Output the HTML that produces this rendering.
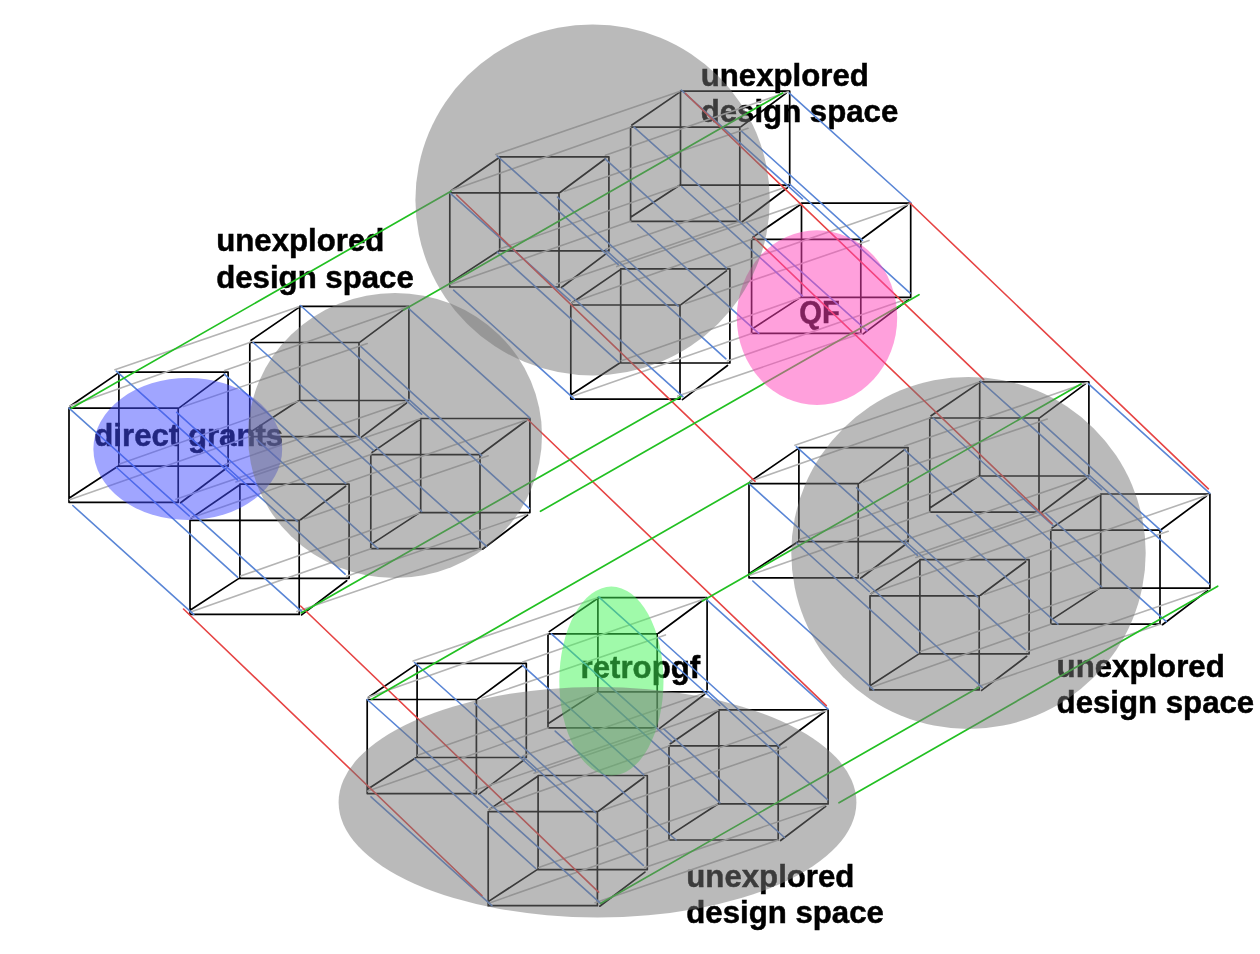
<!DOCTYPE html>
<html><head><meta charset="utf-8"><style>
html,body{margin:0;padding:0;background:#fff;width:1260px;height:954px;overflow:hidden}
svg{display:block;will-change:transform}
text{font-family:"Liberation Sans",sans-serif;font-weight:bold;font-size:31.2px;fill:#000;stroke:#000;stroke-width:0.5px}
</style></head><body>
<svg width="1260" height="954" viewBox="0 0 1260 954">
<g><text x="700.7" y="86.2">unexplored</text><text x="700.7" y="122.4">design space</text><text x="216.2" y="251.4">unexplored</text><text x="216.2" y="287.6">design space</text><text x="1056.6" y="677.0">unexplored</text><text x="1056.6" y="713.2">design space</text><text x="686.3" y="886.8">unexplored</text><text x="686.3" y="923.0">design space</text><text x="94.3" y="445.5">direct grants</text><text x="580.6" y="677.6">retropgf</text><text transform="translate(799.2 322.9) scale(0.935 1)" x="0" y="0">QF</text></g>
<g fill="none" stroke-linecap="round">
<path d="M70.3 406.0L118.2 373.1M69.0 408.2L69.0 502.3M69.0 408.2L178.2 408.2M179.5 407.6L224.6 374.1M178.2 408.2L178.2 502.3M69.0 498.2L117.6 466.5M69.0 502.3L178.2 502.3M180.6 502.8L225.7 468.7M118.9 372.1L118.9 466.2M118.9 372.1L228.1 372.1M228.1 372.1L228.1 466.2M118.9 466.2L228.1 466.2M251.1 340.3L299.0 307.4M249.8 342.5L249.8 436.6M249.8 342.5L359.0 342.5M360.3 341.9L405.4 308.4M359.0 342.5L359.0 436.6M249.8 432.5L298.4 400.8M249.8 436.6L359.0 436.6M361.4 437.1L406.5 403.0M299.7 306.4L299.7 400.5M299.7 306.4L408.9 306.4M408.9 306.4L408.9 400.5M299.7 400.5L408.9 400.5M191.3 518.1L239.2 485.2M190.0 520.3L190.0 614.4M190.0 520.3L299.2 520.3M300.5 519.7L345.6 486.2M299.2 520.3L299.2 614.4M190.0 610.3L238.6 578.6M190.0 614.4L299.2 614.4M301.6 614.9L346.7 580.8M239.9 484.2L239.9 578.3M239.9 484.2L349.1 484.2M349.1 484.2L349.1 578.3M239.9 578.3L349.1 578.3M372.1 452.4L420.0 419.5M370.8 454.6L370.8 548.7M370.8 454.6L480.0 454.6M481.3 454.0L526.4 420.5M480.0 454.6L480.0 548.7M370.8 544.6L419.4 512.9M370.8 548.7L480.0 548.7M482.4 549.2L527.5 515.1M420.7 418.5L420.7 512.6M420.7 418.5L529.9 418.5M529.9 418.5L529.9 512.6M420.7 512.6L529.9 512.6M451.1 190.7L499.0 157.8M449.8 192.9L449.8 287.0M449.8 192.9L559.0 192.9M560.3 192.3L605.4 158.8M559.0 192.9L559.0 287.0M449.8 282.9L498.4 251.2M449.8 287.0L559.0 287.0M561.4 287.5L606.5 253.4M499.7 156.8L499.7 250.9M499.7 156.8L608.9 156.8M608.9 156.8L608.9 250.9M499.7 250.9L608.9 250.9M631.9 125.0L679.8 92.1M630.6 127.2L630.6 221.3M630.6 127.2L739.8 127.2M741.1 126.6L786.2 93.1M739.8 127.2L739.8 221.3M630.6 217.2L679.2 185.5M630.6 221.3L739.8 221.3M742.2 221.8L787.3 187.7M680.5 91.1L680.5 185.2M680.5 91.1L789.7 91.1M789.7 91.1L789.7 185.2M680.5 185.2L789.7 185.2M572.1 302.8L620.0 269.9M570.8 305.0L570.8 399.1M570.8 305.0L680.0 305.0M681.3 304.4L726.4 270.9M680.0 305.0L680.0 399.1M570.8 395.0L619.4 363.3M570.8 399.1L680.0 399.1M682.4 399.6L727.5 365.5M620.7 268.9L620.7 363.0M620.7 268.9L729.9 268.9M729.9 268.9L729.9 363.0M620.7 363.0L729.9 363.0M752.9 237.1L800.8 204.2M751.6 239.3L751.6 333.4M751.6 239.3L860.8 239.3M862.1 238.7L907.2 205.2M860.8 239.3L860.8 333.4M751.6 329.3L800.2 297.6M751.6 333.4L860.8 333.4M863.2 333.9L908.3 299.8M801.5 203.2L801.5 297.3M801.5 203.2L910.7 203.2M910.7 203.2L910.7 297.3M801.5 297.3L910.7 297.3M368.5 697.3L416.4 664.4M367.2 699.5L367.2 793.6M367.2 699.5L476.4 699.5M477.7 698.9L522.8 665.4M476.4 699.5L476.4 793.6M367.2 789.5L415.8 757.8M367.2 793.6L476.4 793.6M478.8 794.1L523.9 760.0M417.1 663.4L417.1 757.5M417.1 663.4L526.3 663.4M526.3 663.4L526.3 757.5M417.1 757.5L526.3 757.5M549.3 631.6L597.2 598.7M548.0 633.8L548.0 727.9M548.0 633.8L657.2 633.8M658.5 633.2L703.6 599.7M657.2 633.8L657.2 727.9M548.0 723.8L596.6 692.1M548.0 727.9L657.2 727.9M659.6 728.4L704.7 694.3M597.9 597.7L597.9 691.8M597.9 597.7L707.1 597.7M707.1 597.7L707.1 691.8M597.9 691.8L707.1 691.8M489.5 809.4L537.4 776.5M488.2 811.6L488.2 905.7M488.2 811.6L597.4 811.6M598.7 811.0L643.8 777.5M597.4 811.6L597.4 905.7M488.2 901.6L536.8 869.9M488.2 905.7L597.4 905.7M599.8 906.2L644.9 872.1M538.1 775.5L538.1 869.6M538.1 775.5L647.3 775.5M647.3 775.5L647.3 869.6M538.1 869.6L647.3 869.6M670.3 743.7L718.2 710.8M669.0 745.9L669.0 840.0M669.0 745.9L778.2 745.9M779.5 745.3L824.6 711.8M778.2 745.9L778.2 840.0M669.0 835.9L717.6 804.2M669.0 840.0L778.2 840.0M780.6 840.5L825.7 806.4M718.9 709.8L718.9 803.9M718.9 709.8L828.1 709.8M828.1 709.8L828.1 803.9M718.9 803.9L828.1 803.9M750.3 481.5L798.2 448.6M749.0 483.7L749.0 577.8M749.0 483.7L858.2 483.7M859.5 483.1L904.6 449.6M858.2 483.7L858.2 577.8M749.0 573.7L797.6 542.0M749.0 577.8L858.2 577.8M860.6 578.3L905.7 544.2M798.9 447.6L798.9 541.7M798.9 447.6L908.1 447.6M908.1 447.6L908.1 541.7M798.9 541.7L908.1 541.7M931.1 415.8L979.0 382.9M929.8 418.0L929.8 512.1M929.8 418.0L1039.0 418.0M1040.3 417.4L1085.4 383.9M1039.0 418.0L1039.0 512.1M929.8 508.0L978.4 476.3M929.8 512.1L1039.0 512.1M1041.4 512.6L1086.5 478.5M979.7 381.9L979.7 476.0M979.7 381.9L1088.9 381.9M1088.9 381.9L1088.9 476.0M979.7 476.0L1088.9 476.0M871.3 593.6L919.2 560.7M870.0 595.8L870.0 689.9M870.0 595.8L979.2 595.8M980.5 595.2L1025.6 561.7M979.2 595.8L979.2 689.9M870.0 685.8L918.6 654.1M870.0 689.9L979.2 689.9M981.6 690.4L1026.7 656.3M919.9 559.7L919.9 653.8M919.9 559.7L1029.1 559.7M1029.1 559.7L1029.1 653.8M919.9 653.8L1029.1 653.8M1052.1 527.9L1100.0 495.0M1050.8 530.1L1050.8 624.2M1050.8 530.1L1160.0 530.1M1161.3 529.5L1206.4 496.0M1160.0 530.1L1160.0 624.2M1050.8 620.1L1099.4 588.4M1050.8 624.2L1160.0 624.2M1162.4 624.7L1207.5 590.6M1100.7 494.0L1100.7 588.1M1100.7 494.0L1209.9 494.0M1209.9 494.0L1209.9 588.1M1100.7 588.1L1209.9 588.1" stroke="#000" stroke-width="1.7"/>
<path d="M70.5 405.7L249.8 342.5M183.6 406.6L367.2 343.6M69.6 499.8L249.8 436.6M175.9 499.3L359.0 436.6M114.9 369.8L298.7 306.8M224.6 370.6L407.4 307.1M119.5 464.0L298.0 401.2M225.6 464.2L405.3 402.3M191.5 517.8L370.8 454.6M304.6 518.7L488.2 455.7M190.6 611.9L370.8 548.7M296.9 611.4L480.0 548.7M235.9 481.9L419.7 418.9M345.6 482.7L528.4 419.2M240.5 576.1L419.0 513.3M346.6 576.3L526.3 514.4M451.3 190.4L630.6 127.2M564.4 191.3L748.0 128.3M450.4 284.5L630.6 221.3M556.7 284.0L739.8 221.3M495.7 154.5L679.5 91.5M605.4 155.3L788.2 91.8M500.3 248.7L678.8 185.9M606.4 248.9L786.1 187.0M572.3 302.5L751.6 239.3M685.4 303.4L869.0 240.4M571.4 396.6L751.6 333.4M677.7 396.1L860.8 333.4M616.7 266.6L800.5 203.6M726.4 267.4L909.2 203.9M621.3 360.8L799.8 298.0M727.4 361.0L907.1 299.1M368.7 697.0L548.0 633.8M481.8 697.9L665.4 634.9M367.8 791.1L548.0 727.9M474.1 790.6L657.2 727.9M413.1 661.1L596.9 598.1M522.8 661.9L705.6 598.4M417.7 755.3L596.2 692.5M523.8 755.5L703.5 693.6M489.7 809.1L669.0 745.9M602.8 810.0L786.4 747.0M488.8 903.2L669.0 840.0M595.1 902.7L778.2 840.0M534.1 773.2L717.9 710.2M643.8 774.0L826.6 710.5M538.7 867.4L717.2 804.6M644.8 867.6L824.5 805.7M750.5 481.2L929.8 418.0M863.6 482.1L1047.2 419.1M749.6 575.3L929.8 512.1M855.9 574.8L1039.0 512.1M794.9 445.3L978.7 382.3M904.6 446.1L1087.4 382.6M799.5 539.5L978.0 476.7M905.6 539.7L1085.3 477.8M871.5 593.3L1050.8 530.1M984.6 594.2L1168.2 531.2M870.6 687.4L1050.8 624.2M976.9 686.9L1160.0 624.2M915.9 557.4L1099.7 494.4M1025.6 558.2L1208.4 494.7M920.5 651.6L1099.0 588.8M1026.6 651.8L1206.3 589.9" stroke="#b4b4b4" stroke-width="1.6"/>
<path d="M69.0 408.2L189.3 516.0M176.7 412.4L297.4 521.4M72.8 505.5L193.7 614.4M181.6 503.5L302.1 611.9M116.3 371.2L237.4 479.9M224.3 374.1L345.6 483.5M116.6 467.5L237.5 577.2M224.6 465.0L345.1 574.1M253.2 342.5L373.5 450.3M360.9 346.7L481.6 455.7M257.0 439.8L377.9 548.7M365.8 437.8L486.3 546.2M300.5 305.5L421.6 414.2M408.5 308.4L529.8 417.8M300.8 401.8L421.7 511.5M408.8 399.3L529.3 508.4M449.8 192.9L570.1 300.7M557.5 197.1L678.2 306.1M453.6 290.2L574.5 399.1M562.4 288.2L682.9 396.6M497.1 155.9L618.2 264.6M605.1 158.8L726.4 268.2M497.4 252.2L618.3 361.9M605.4 249.7L725.9 358.8M634.0 127.2L754.3 235.0M741.7 131.4L862.4 240.4M637.8 224.5L758.7 333.4M746.6 222.5L867.1 330.9M681.3 90.2L802.4 198.9M789.3 93.1L910.6 202.5M681.6 186.5L802.5 296.2M789.6 184.0L910.1 293.1M367.2 699.5L487.5 807.3M474.9 703.7L595.6 812.7M371.0 796.8L491.9 905.7M479.8 794.8L600.3 903.2M414.5 662.5L535.6 771.2M522.5 665.4L643.8 774.8M414.8 758.8L535.7 868.5M522.8 756.3L643.3 865.4M551.4 633.8L671.7 741.6M659.1 638.0L779.8 747.0M555.2 731.1L676.1 840.0M664.0 729.1L784.5 837.5M598.7 596.8L719.8 705.5M706.7 599.7L828.0 709.1M599.0 693.1L719.9 802.8M707.0 690.6L827.5 799.7M749.0 483.7L869.3 591.5M856.7 487.9L977.4 596.9M752.8 581.0L873.7 689.9M861.6 579.0L982.1 687.4M796.3 446.7L917.4 555.4M904.3 449.6L1025.6 559.0M796.6 543.0L917.5 652.7M904.6 540.5L1025.1 649.6M933.2 418.0L1053.5 525.8M1040.9 422.2L1161.6 531.2M937.0 515.3L1057.9 624.2M1045.8 513.3L1166.3 621.7M980.5 381.0L1101.6 489.7M1088.5 383.9L1209.8 493.3M980.8 477.3L1101.7 587.0M1088.8 474.8L1209.3 583.9" stroke="#5a86d6" stroke-width="1.6"/>
<path d="M183.5 609.0L481.9 895.5M300.6 606.0L598.6 892.1M527.8 419.5L826.3 705.6M456.7 195.0L755.1 481.3M685.3 93.4L983.7 379.6M753.7 237.3L1052.1 523.7M909.9 203.0L1208.4 488.8" stroke="#e64444" stroke-width="1.6"/>
<path d="M71.3 408.2L451.0 191.2M403.6 310.0L782.5 92.9M301.1 612.9L680.9 396.6M540.5 511.3L919.0 294.7M371.7 699.3L749.4 482.5M702.4 601.0L1081.0 384.0M600.5 903.6L978.8 687.3M839.0 802.8L1217.7 586.2" stroke="#22c022" stroke-width="1.7"/>
</g>
<ellipse cx="187.8" cy="448.9" rx="94.4" ry="71.0" fill="#414bff" fill-opacity="0.5"/><ellipse cx="817.0" cy="317.6" rx="80.2" ry="87.3" fill="#ff41b9" fill-opacity="0.5"/><ellipse cx="611.4" cy="681.1" rx="52.1" ry="94.5" fill="#41f555" fill-opacity="0.5"/><ellipse cx="592.6" cy="199.9" rx="177.2" ry="175.5" fill="#757575" fill-opacity="0.5"/><ellipse cx="395.0" cy="435.5" rx="147.0" ry="142.5" fill="#757575" fill-opacity="0.5"/><ellipse cx="968.5" cy="552.9" rx="177.2" ry="176.0" fill="#757575" fill-opacity="0.5"/><ellipse cx="597.5" cy="802.2" rx="258.9" ry="115.2" fill="#757575" fill-opacity="0.5"/>
</svg>
</body></html>
